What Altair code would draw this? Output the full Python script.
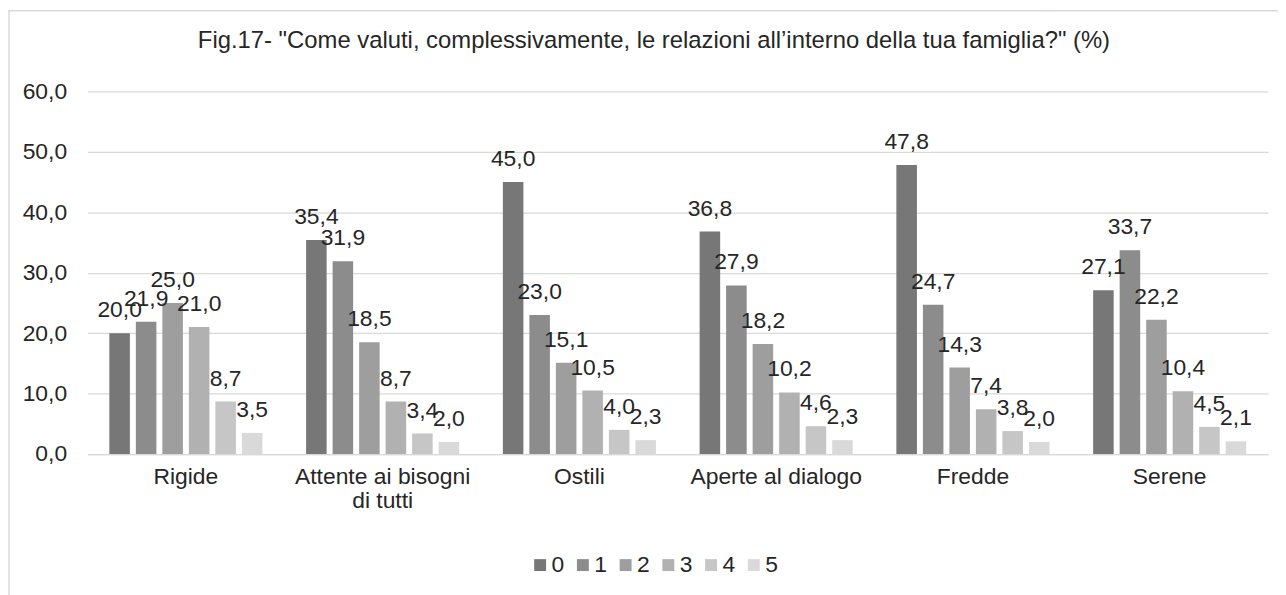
import altair as alt
import pandas as pd

categories = ["Rigide", "Attente ai bisogni di tutti", "Ostili", "Aperte al dialogo", "Fredde", "Serene"]
series = ["0", "1", "2", "3", "4", "5"]
v0 = [20.0, 35.4, 45.0, 36.8, 47.8, 27.1]
v1 = [21.9, 31.9, 23.0, 27.9, 24.7, 33.7]
v2 = [25.0, 18.5, 15.1, 18.2, 14.3, 22.2]
v3 = [21.0, 8.7, 10.5, 10.2, 7.4, 10.4]
v4 = [8.7, 3.4, 4.0, 4.6, 3.8, 4.5]
v5 = [3.5, 2.0, 2.3, 2.3, 2.0, 2.1]
colors = ["#777777", "#8c8c8c", "#9e9e9e", "#b1b1b1", "#c6c6c6", "#d9d9d9"]
title_text = 'Fig.17- "Come valuti, complessivamente, le relazioni all\u2019interno della tua famiglia?" (%)'

rows = []
for s, vals in zip(series, [v0, v1, v2, v3, v4, v5]):
    for c, v in zip(categories, vals):
        rows.append({"cat": c, "s": s, "v": v})
df = pd.DataFrame(rows)

FONT = "Liberation Sans"
TXT = "#262626"

base = alt.Chart(df).transform_calculate(
    lbl="replace(format(datum.v, '.1f'), '.', ',')"
).encode(
    x=alt.X("cat:N", sort=categories,
            scale=alt.Scale(paddingInner=0.222, paddingOuter=0.111),
            axis=alt.Axis(title=None, labelAngle=0, ticks=False, domainColor="#d9d9d9",
                          domainWidth=1.3,
                          labelExpr="datum.label == 'Attente ai bisogni di tutti' ? ['Attente ai bisogni', 'di tutti'] : datum.label",
                          labelPadding=12, labelFontSize=23, labelLineHeight=24,
                          labelColor=TXT, labelFont=FONT)),
    xOffset=alt.XOffset("s:N", sort=series, scale=alt.Scale(paddingInner=0.225, paddingOuter=0)),
)

bars = base.mark_bar().encode(
    y=alt.Y("v:Q", scale=alt.Scale(domain=[0, 60]),
            axis=alt.Axis(title=None, values=[0, 10, 20, 30, 40, 50, 60], ticks=False, domain=False,
                          labelExpr="replace(format(datum.value, '.1f'), '.', ',')",
                          labelPadding=21, labelFontSize=23, labelColor=TXT, labelFont=FONT,
                          gridColor="#d9d9d9", gridWidth=1.3)),
    color=alt.Color("s:N", sort=series, scale=alt.Scale(domain=series, range=colors),
                    legend=alt.Legend(title=None, orient="none", legendX=444, legendY=465,
                                      direction="horizontal", symbolType="square", symbolSize=144,
                                      symbolStrokeWidth=0, labelFontSize=23, labelFont=FONT,
                                      labelColor=TXT, columnPadding=7, labelOffset=0)),
)

text = base.mark_text(dy=-16, baseline="alphabetic", fontSize=23, font=FONT, color=TXT).encode(
    y=alt.Y("v:Q"),
    text="lbl:N",
)

frame = alt.Chart(pd.DataFrame({"a": [0]})).mark_rect(
    fill=None, stroke="#d9d9d9", strokeWidth=1.5
).encode(x=alt.value(-79), x2=alt.value(1220), y=alt.value(-81), y2=alt.value(520))

chart = alt.layer(frame, bars, text).properties(
    width=1188, height=365,
    autosize=alt.AutoSizeParams(type="none"),
    padding={"left": 80, "top": 82, "right": 10, "bottom": 140},
    title=alt.Title(title_text, anchor="middle", frame="group", fontSize=24, font=FONT,
                    fontWeight="normal", baseline="alphabetic",
                    color=TXT, dx=-24, offset=-62),
).configure_view(stroke=None)

chart.save("out.html", embed_options={"renderer": "svg", "actions": False})
